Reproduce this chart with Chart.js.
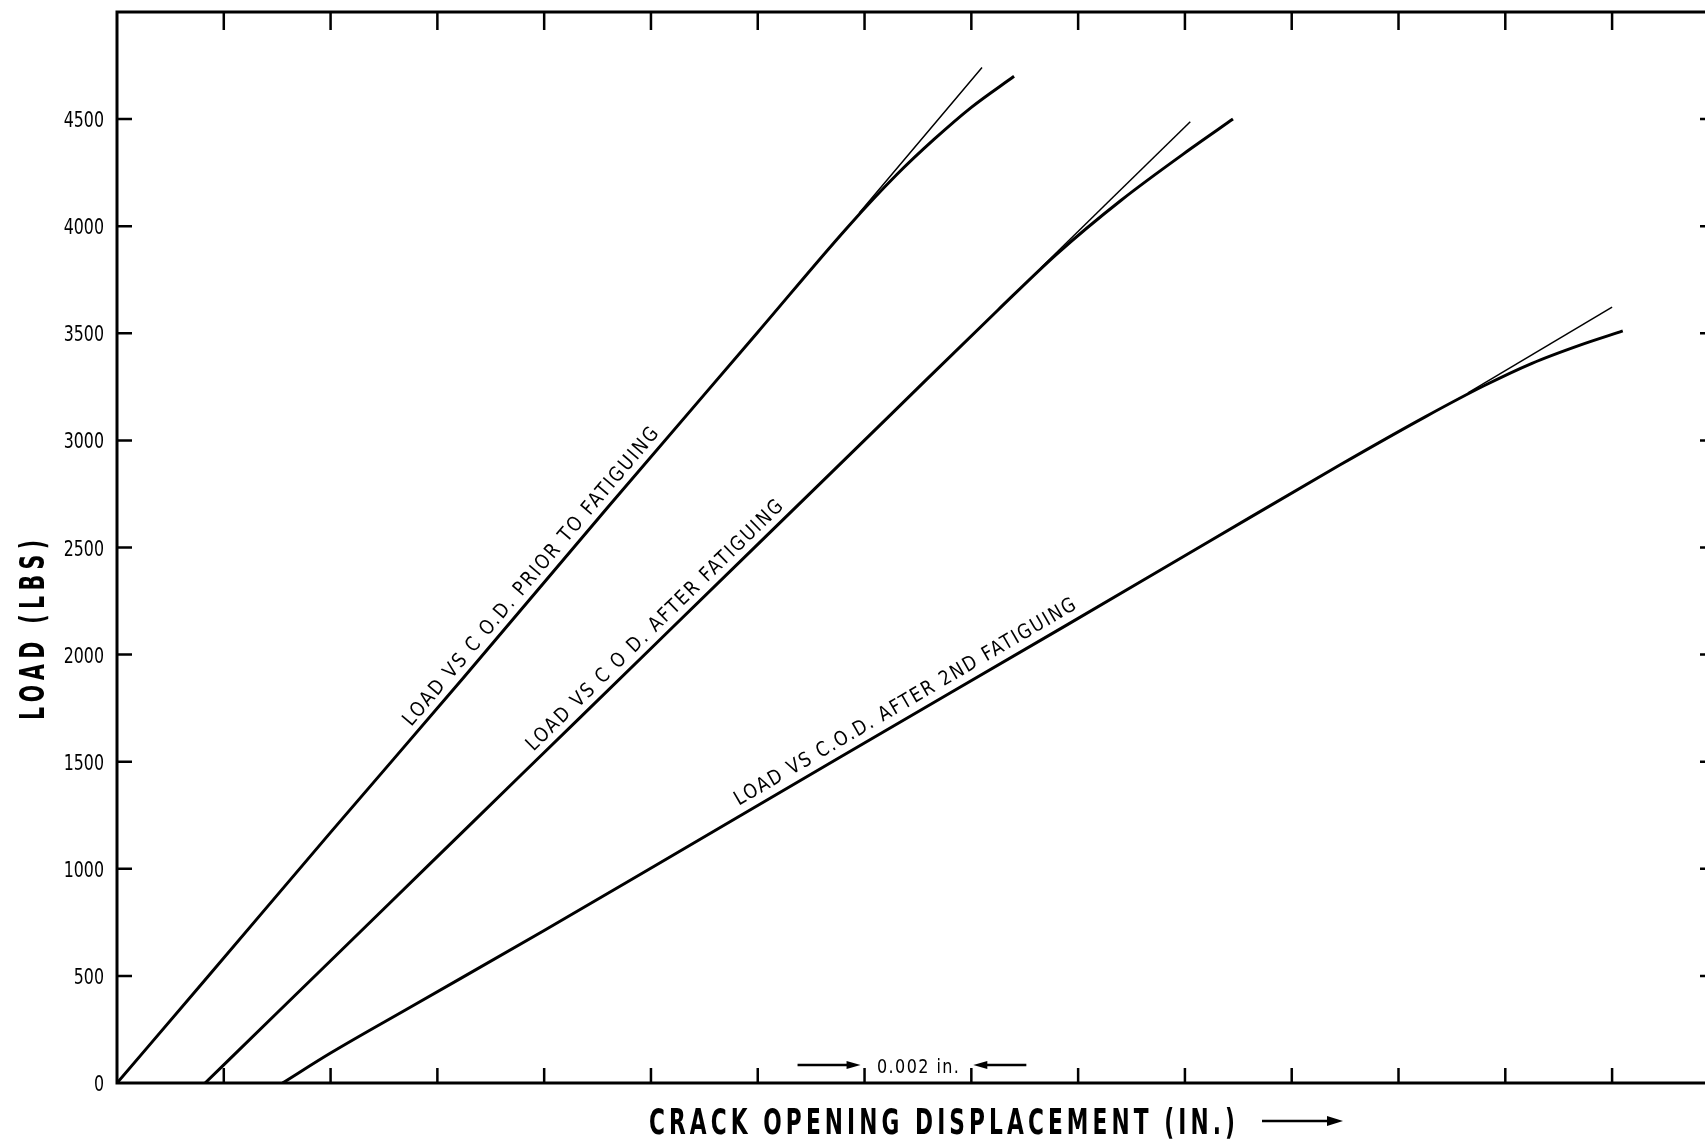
<!DOCTYPE html>
<html>
<head>
<meta charset="utf-8">
<title>Load vs C.O.D.</title>
<script src="https://cdn.jsdelivr.net/npm/chart.js@4.4.1/dist/chart.umd.min.js"></script>
<style>
  html, body { margin: 0; padding: 0; background: #fff; }
  canvas { display: block; }
</style>
</head>
<body>
<canvas id="codChart" width="1705" height="1143"></canvas>
<script>
// crack opening displacement (in.) against load (lbs), three runs
const codPrior = [0, 0.0017, 0.0040, 0.0065, 0.0092, 0.0120, 0.0137, 0.0146, 0.0153, 0.0160, 0.0168];
const loadPrior = [0, 496, 1170, 1895, 2690, 3505, 4000, 4240, 4405, 4555, 4700];
const codPriorTan = [0.0139, 0.0162];
const loadPriorTan = [4062, 4741];

const codAfter = [0.00165, 0.0030, 0.0051, 0.0066, 0.0080, 0.0101, 0.0121, 0.0145, 0.0165, 0.0176, 0.0188, 0.0201, 0.0209];
const loadAfter = [0, 328, 838, 1203, 1543, 2053, 2539, 3123, 3609, 3870, 4120, 4360, 4500];
const codAfterTan = [0.0173, 0.0201];
const loadAfterTan = [3805, 4488];

const codSecond = [0.0031, 0.0040, 0.0055, 0.0080, 0.0101, 0.0135, 0.0178, 0.0205, 0.0229, 0.0245, 0.0256, 0.0265, 0.0274, 0.0282];
const loadSecond = [0, 140, 355, 712, 1018, 1515, 2140, 2535, 2885, 3110, 3255, 3360, 3445, 3511];
const codSecondTan = [0.0253, 0.0280];
const loadSecondTan = [3222, 3622];

// axis ticks
const loadTicks = [0, 500, 1000, 1500, 2000, 2500, 3000, 3500, 4000, 4500];
const codTicks = [0.002, 0.004, 0.006, 0.008, 0.010, 0.012, 0.014, 0.016, 0.018, 0.020, 0.022, 0.024, 0.026, 0.028];
const codMax = 0.02974;
const loadMax = 5000;

const FONT = '"DejaVu Sans", "Liberation Sans", sans-serif';

const curveLabels = [
    { text: "LOAD VS C O.D. PRIOR TO FATIGUING", cod: codPrior, load: loadPrior, at: 0.00795, lift: 8, length: 384 },
    { text: "LOAD VS C O D. AFTER FATIGUING", cod: codAfter, load: loadAfter, at: 0.01025, lift: 8, length: 350 },
    { text: "LOAD VS C.O.D. AFTER 2ND FATIGUING", cod: codSecond, load: loadSecond, at: 0.0149, lift: 9, length: 392 },
];

function toPoints(xs, ys) {
    return xs.map((x, i) => ({ x: x, y: ys[i] }));
}

function loadAt(xs, ys, v) {
    for (let i = 1; i < xs.length; i++) {
        if (v <= xs[i]) {
            const t = (v - xs[i - 1]) / (xs[i] - xs[i - 1]);
            return ys[i - 1] + t * (ys[i] - ys[i - 1]);
        }
    }
    return ys[ys.length - 1];
}

// narrow the glyphs and spread them so the text spans `width` from x
function drawSqueezed(ctx, text, x, y, width, squeeze) {
    ctx.save();
    ctx.letterSpacing = "0px";
    const natural = ctx.measureText(text).width * squeeze;
    const gap = (width - natural) / (text.length - 1);
    ctx.scale(squeeze, 1);
    ctx.letterSpacing = (gap / squeeze) + "px";
    ctx.textAlign = "left";
    ctx.fillText(text, x / squeeze, y);
    ctx.restore();
}

function arrow(ctx, x1, x2, y, head, half) {
    const dir = Math.sign(x2 - x1);
    ctx.beginPath();
    ctx.moveTo(x1, y);
    ctx.lineTo(x2 - dir * head * 0.6, y);
    ctx.stroke();
    ctx.beginPath();
    ctx.moveTo(x2, y);
    ctx.lineTo(x2 - dir * head, y - half);
    ctx.lineTo(x2 - dir * head, y + half);
    ctx.closePath();
    ctx.fill();
}

const framePlugin = {
    id: "frame",
    afterDatasetsDraw(chart) {
        const { ctx, chartArea: a, scales: { x, y } } = chart;
        ctx.save();
        ctx.strokeStyle = "#000";
        ctx.fillStyle = "#000";
        ctx.textBaseline = "alphabetic";

        // border: top, left, bottom (right side runs off the sheet)
        ctx.lineWidth = 3;
        ctx.beginPath();
        ctx.moveTo(a.right, a.top);
        ctx.lineTo(a.left, a.top);
        ctx.lineTo(a.left, a.bottom);
        ctx.lineTo(a.right, a.bottom);
        ctx.stroke();

        // inward tick marks
        ctx.lineWidth = 2.5;
        codTicks.forEach((v) => {
            const px = x.getPixelForValue(v);
            ctx.beginPath();
            ctx.moveTo(px, a.top);
            ctx.lineTo(px, a.top + 18);
            ctx.moveTo(px, a.bottom);
            ctx.lineTo(px, a.bottom - 15);
            ctx.stroke();
        });
        y.ticks.forEach((t) => {
            if (t.value === 0) return;
            const py = y.getPixelForValue(t.value);
            ctx.beginPath();
            ctx.moveTo(a.left, py);
            ctx.lineTo(a.left + 15, py);
            ctx.moveTo(a.right - 5, py);
            ctx.lineTo(a.right, py);
            ctx.stroke();
        });

        // load tick labels, narrow figures
        ctx.font = "22px " + FONT;
        y.ticks.forEach((t) => {
            const py = y.getPixelForValue(t.value);
            ctx.save();
            ctx.scale(0.72, 1);
            ctx.textAlign = "right";
            ctx.fillText(String(t.value), (a.left - 13) / 0.72, py + 8);
            ctx.restore();
        });

        // labels along the curves
        ctx.font = "20px " + FONT;
        curveLabels.forEach((l) => {
            const px = x.getPixelForValue(l.at);
            const py = y.getPixelForValue(loadAt(l.cod, l.load, l.at));
            const x1 = x.getPixelForValue(l.at - 0.001);
            const y1 = y.getPixelForValue(loadAt(l.cod, l.load, l.at - 0.001));
            const x2 = x.getPixelForValue(l.at + 0.001);
            const y2 = y.getPixelForValue(loadAt(l.cod, l.load, l.at + 0.001));
            const len = Math.hypot(x2 - x1, y2 - y1);
            const ux = (x2 - x1) / len, uy = (y2 - y1) / len;
            ctx.save();
            ctx.translate(px + uy * l.lift, py - ux * l.lift);
            ctx.rotate(Math.atan2(uy, ux));
            drawSqueezed(ctx, l.text, -l.length / 2, 0, l.length, 0.86);
            ctx.restore();
        });

        // 0.002 in. scale note between two ticks
        const t0 = x.getPixelForValue(0.014);
        const t1 = x.getPixelForValue(0.016);
        ctx.lineWidth = 2.5;
        arrow(ctx, t0 - 67, t0 - 4, 1065, 14, 4);
        arrow(ctx, t1 + 55, t1 + 2, 1065, 14, 4);
        ctx.font = "20px " + FONT;
        drawSqueezed(ctx, "0.002 in.", (t0 + t1) / 2 - 41, 1073, 82, 0.8);

        // axis titles
        ctx.font = "bold 35px " + FONT;
        drawSqueezed(ctx, "CRACK OPENING DISPLACEMENT (IN.)", 649, 1134, 586, 0.62);
        ctx.lineWidth = 2.5;
        arrow(ctx, 1262, 1343, 1121, 16, 5);

        ctx.save();
        ctx.translate(44, 630);
        ctx.rotate(-Math.PI / 2);
        ctx.font = "bold 33px " + FONT;
        drawSqueezed(ctx, "LOAD (LBS)", -90, 0, 180, 0.62);
        ctx.restore();

        ctx.restore();
    },
};

const curve = { showLine: true, borderColor: "#000", pointRadius: 0, cubicInterpolationMode: "monotone" };

new Chart(document.getElementById("codChart"), {
    type: "scatter",
    data: {
        datasets: [
            { ...curve, label: "Prior to fatiguing", data: toPoints(codPrior, loadPrior), borderWidth: 3 },
            { ...curve, label: "After fatiguing", data: toPoints(codAfter, loadAfter), borderWidth: 3 },
            { ...curve, label: "After 2nd fatiguing", data: toPoints(codSecond, loadSecond), borderWidth: 3 },
            { ...curve, label: "Initial slope", data: toPoints(codPriorTan, loadPriorTan), borderWidth: 1.5 },
            { ...curve, label: "Initial slope", data: toPoints(codAfterTan, loadAfterTan), borderWidth: 1.5 },
            { ...curve, label: "Initial slope", data: toPoints(codSecondTan, loadSecondTan), borderWidth: 1.5 },
        ],
    },
    options: {
        responsive: false,
        devicePixelRatio: 1,
        animation: false,
        events: [],
        layout: { padding: { top: 12, right: 0, bottom: 60, left: 0 } },
        plugins: { legend: { display: false }, tooltip: { enabled: false } },
        scales: {
            x: {
                type: "linear",
                display: false,
                min: 0,
                max: codMax,
            },
            y: {
                type: "linear",
                min: 0,
                max: loadMax,
                grid: { display: false, drawTicks: false },
                border: { display: false },
                afterBuildTicks: (s) => { s.ticks = loadTicks.map((v) => ({ value: v })); },
                afterFit: (s) => { s.width = 117; },
                ticks: { display: false },
            },
        },
    },
    plugins: [framePlugin],
});
</script>
</body>
</html>
